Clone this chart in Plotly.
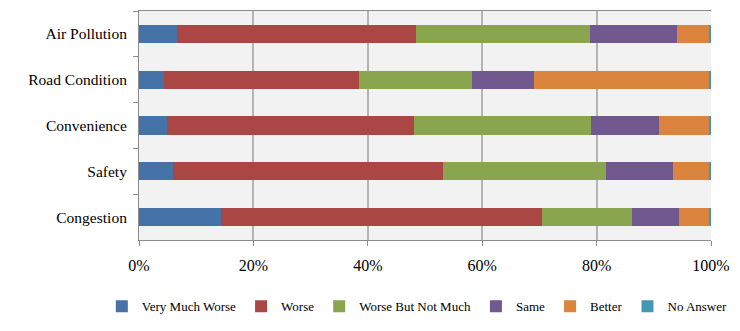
import plotly.graph_objects as go

categories = ["Air Pollution", "Road Condition", "Convenience", "Safety", "Congestion"]
series_names = ["Very Much Worse", "Worse", "Worse But Not Much", "Same", "Better", "No Answer"]
very_much_worse = [6.7, 4.4, 4.9, 6.0, 14.4]
worse = [41.7, 34.0, 43.1, 47.2, 56.0]
worse_not_much = [30.4, 19.9, 31.0, 28.5, 15.8]
same = [15.2, 10.7, 11.9, 11.6, 8.2]
better = [5.8, 30.8, 8.9, 6.5, 5.4]
no_answer = [0.2, 0.2, 0.2, 0.2, 0.2]
x_tick_vals = [0, 20, 40, 60, 80, 100]
x_tick_text = ["0%", "20%", "40%", "60%", "80%", "100%"]

colors = ["#4572A7", "#AA4643", "#89A54E", "#71588F", "#DB843D", "#4198AF"]
values = [very_much_worse, worse, worse_not_much, same, better, no_answer]

fig = go.Figure()
for name, vals, col in zip(series_names, values, colors):
    fig.add_trace(go.Bar(
        y=categories, x=vals, name=name, orientation="h",
        marker=dict(color=col, line=dict(width=0)),
        width=0.4,
    ))

font_family = "Liberation Serif, Times New Roman, serif"
fig.update_layout(
    barmode="stack",
    width=740, height=331,
    margin=dict(l=139, r=22, t=10, b=86),
    paper_bgcolor="white",
    plot_bgcolor="#f2f2f2",
    font=dict(family=font_family, size=15, color="#000000"),
    showlegend=True,
    legend=dict(
        orientation="h", x=-0.065, xanchor="left", y=-0.29, yanchor="middle",
        font=dict(family=font_family, size=13, color="#000000"),
        itemwidth=30, traceorder="normal", bgcolor="rgba(0,0,0,0)",
    ),
    bargap=0.6,
)
fig.update_xaxes(
    range=[0, 100], tickvals=x_tick_vals, ticktext=x_tick_text,
    showgrid=True, gridcolor="#b4b4b4", gridwidth=2,
    showline=True, linecolor="#8c8c8c", linewidth=1, mirror=True,
    ticks="outside", ticklen=5, tickcolor="#8c8c8c",
    zeroline=False, tickfont=dict(size=16), ticklabelstandoff=6,
)
fig.update_yaxes(
    autorange="reversed", showgrid=False,
    showline=True, linecolor="#8c8c8c", linewidth=1,
    ticks="outside", ticklen=5, tickcolor="#8c8c8c", tickson="boundaries",
    tickfont=dict(size=15.5), ticklabelstandoff=8,
)

fig.write_html("out.html")
